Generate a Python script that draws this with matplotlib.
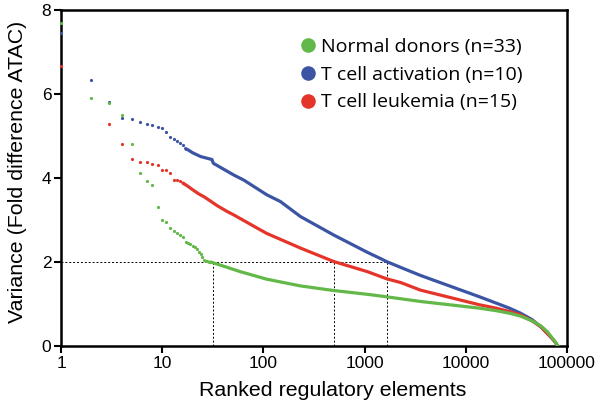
import matplotlib
matplotlib.use("Agg")
import matplotlib.pyplot as plt
from matplotlib.lines import Line2D

plt.rcParams['font.family'] = ['Liberation Sans', 'DejaVu Sans']

# Einzelpunkte (niedrige Ränge)
green_dot_x = [1, 2, 3, 4, 5, 6, 7, 8, 9, 10, 11, 12, 13, 14, 15, 16, 17, 18, 19, 20,
               21, 22, 23, 24, 25, 26, 27, 28, 29, 30]
green_dot_y = [7.70, 5.90, 5.78, 5.50, 4.82, 4.11, 3.94, 3.83, 3.31, 3.00, 2.95, 2.82,
               2.73, 2.68, 2.64, 2.59, 2.48, 2.45, 2.43, 2.38, 2.35, 2.30, 2.24, 2.20,
               2.12, 2.05, 2.03, 2.02, 2.01, 2.00]
blue_dot_x = [1, 2, 3, 4, 5, 6, 7, 8, 9, 10, 11, 12, 13, 14, 15, 16, 17]
blue_dot_y = [7.46, 6.34, 5.82, 5.44, 5.40, 5.33, 5.29, 5.25, 5.22, 5.19, 5.10, 4.98,
              4.93, 4.88, 4.84, 4.79, 4.70]
red_dot_x = [1, 3, 4, 5, 6, 7, 8, 9, 10, 11, 12, 13, 14, 15, 16]
red_dot_y = [6.67, 5.28, 4.80, 4.46, 4.39, 4.37, 4.33, 4.30, 4.20, 4.19, 4.11, 3.96,
             3.95, 3.92, 3.88]

# Dichter Bereich (Kurve)
green_x = [30, 32, 59, 108, 233, 497, 1065, 1440, 3565, 13700, 20000, 27000, 34800,
           45000, 55000, 64000, 72000, 78000, 81000]
green_y = [2.00, 1.98, 1.77, 1.59, 1.43, 1.32, 1.23, 1.19, 1.06, 0.90, 0.84, 0.78, 0.71,
           0.60, 0.48, 0.34, 0.18, 0.07, 0.0]
blue_x = [17, 18, 20, 24, 31, 32, 51, 64, 108, 147, 233, 497, 1065, 1440, 1650, 2276,
          3565, 13700, 20000, 27000, 34800, 45000, 55000, 62000, 70000, 76000, 81000]
blue_y = [4.70, 4.67, 4.60, 4.51, 4.44, 4.35, 4.07, 3.95, 3.60, 3.44, 3.08, 2.64, 2.23,
          2.08, 2.01, 1.87, 1.68, 1.17, 1.02, 0.90, 0.78, 0.63, 0.46, 0.33, 0.20, 0.10,
          0.0]
red_x = [16, 18, 20, 23, 26, 30, 35, 44, 51, 94, 108, 233, 497, 1065, 1650, 2276, 3565,
         13700, 20000, 27000, 34800, 45000, 55000, 62000, 70000, 76000, 81000]
red_y = [3.88, 3.80, 3.72, 3.62, 3.55, 3.45, 3.34, 3.20, 3.12, 2.76, 2.68, 2.33, 2.01,
         1.77, 1.60, 1.51, 1.33, 0.98, 0.90, 0.82, 0.74, 0.60, 0.46, 0.33, 0.20, 0.10,
         0.0]

# Schwellenwert und Schnittpunkte
cut_y = 2
cut_x = [32, 500, 1650]

labels = ['Normal donors (n=33)', 'T cell activation (n=10)', 'T cell leukemia (n=15)']
green, blue, red = '#62b848', '#3b54a4', '#e5352b'

fig = plt.figure(figsize=(6, 4.08), dpi=100)
ax = fig.add_axes([0.1017, 0.152, 0.8433, 0.8235])

ax.plot(blue_x, blue_y, color=blue, lw=2.3, solid_capstyle='round', zorder=3)
ax.plot(red_x, red_y, color=red, lw=2.3, solid_capstyle='round', zorder=4)
ax.plot(green_x, green_y, color=green, lw=2.3, solid_capstyle='round', zorder=5)
ax.plot(blue_dot_x, blue_dot_y, 'o', color=blue, ms=2.3, mew=0, zorder=3, clip_on=False)
ax.plot(red_dot_x, red_dot_y, 'o', color=red, ms=2.3, mew=0, zorder=4, clip_on=False)
ax.plot(green_dot_x, green_dot_y, 'o', color=green, ms=2.3, mew=0, zorder=5, clip_on=False)

# gepunktete Hilfslinien
ax.plot([1, cut_x[-1]], [cut_y, cut_y], color='k', lw=0.7, ls=(0, (2, 2)), zorder=2)
for cx in cut_x:
    ax.plot([cx, cx], [0, cut_y], color='k', lw=0.7, ls=(0, (2, 2)), zorder=2)

ax.set_xscale('log')
ax.set_xlim(1, 100000)
ax.set_ylim(0, 8)
ax.set_xticks([1, 10, 100, 1000, 10000, 100000])
ax.set_xticklabels(['1', '10', '100', '1000', '10000', '100000'])
ax.minorticks_off()
ax.set_yticks([0, 2, 4, 6, 8])
ax.tick_params(direction='out', length=5, width=1.5, labelsize=12.5, pad=2)
for s in ax.spines.values():
    s.set_linewidth(1.8)

ax.set_xlabel('Ranked regulatory elements', fontsize=15.4)
ax.xaxis.set_label_coords(0.537, -0.105)
ax.set_ylabel('Variance (Fold difference ATAC)', fontsize=15.4)
ax.yaxis.set_label_coords(-0.067, 0.519)

handles = [Line2D([], [], ls='', marker='o', ms=10.5, mew=0, color=c) for c in (green, blue, red)]
ax.legend(handles, labels, loc='upper left', bbox_to_anchor=(0.45, 0.946), frameon=False,
          handletextpad=0.15, labelspacing=0.5, handlelength=1.0, borderpad=0,
          prop={'family': 'Open Sans', 'size': 14})

fig.savefig('out.png', dpi=100)
